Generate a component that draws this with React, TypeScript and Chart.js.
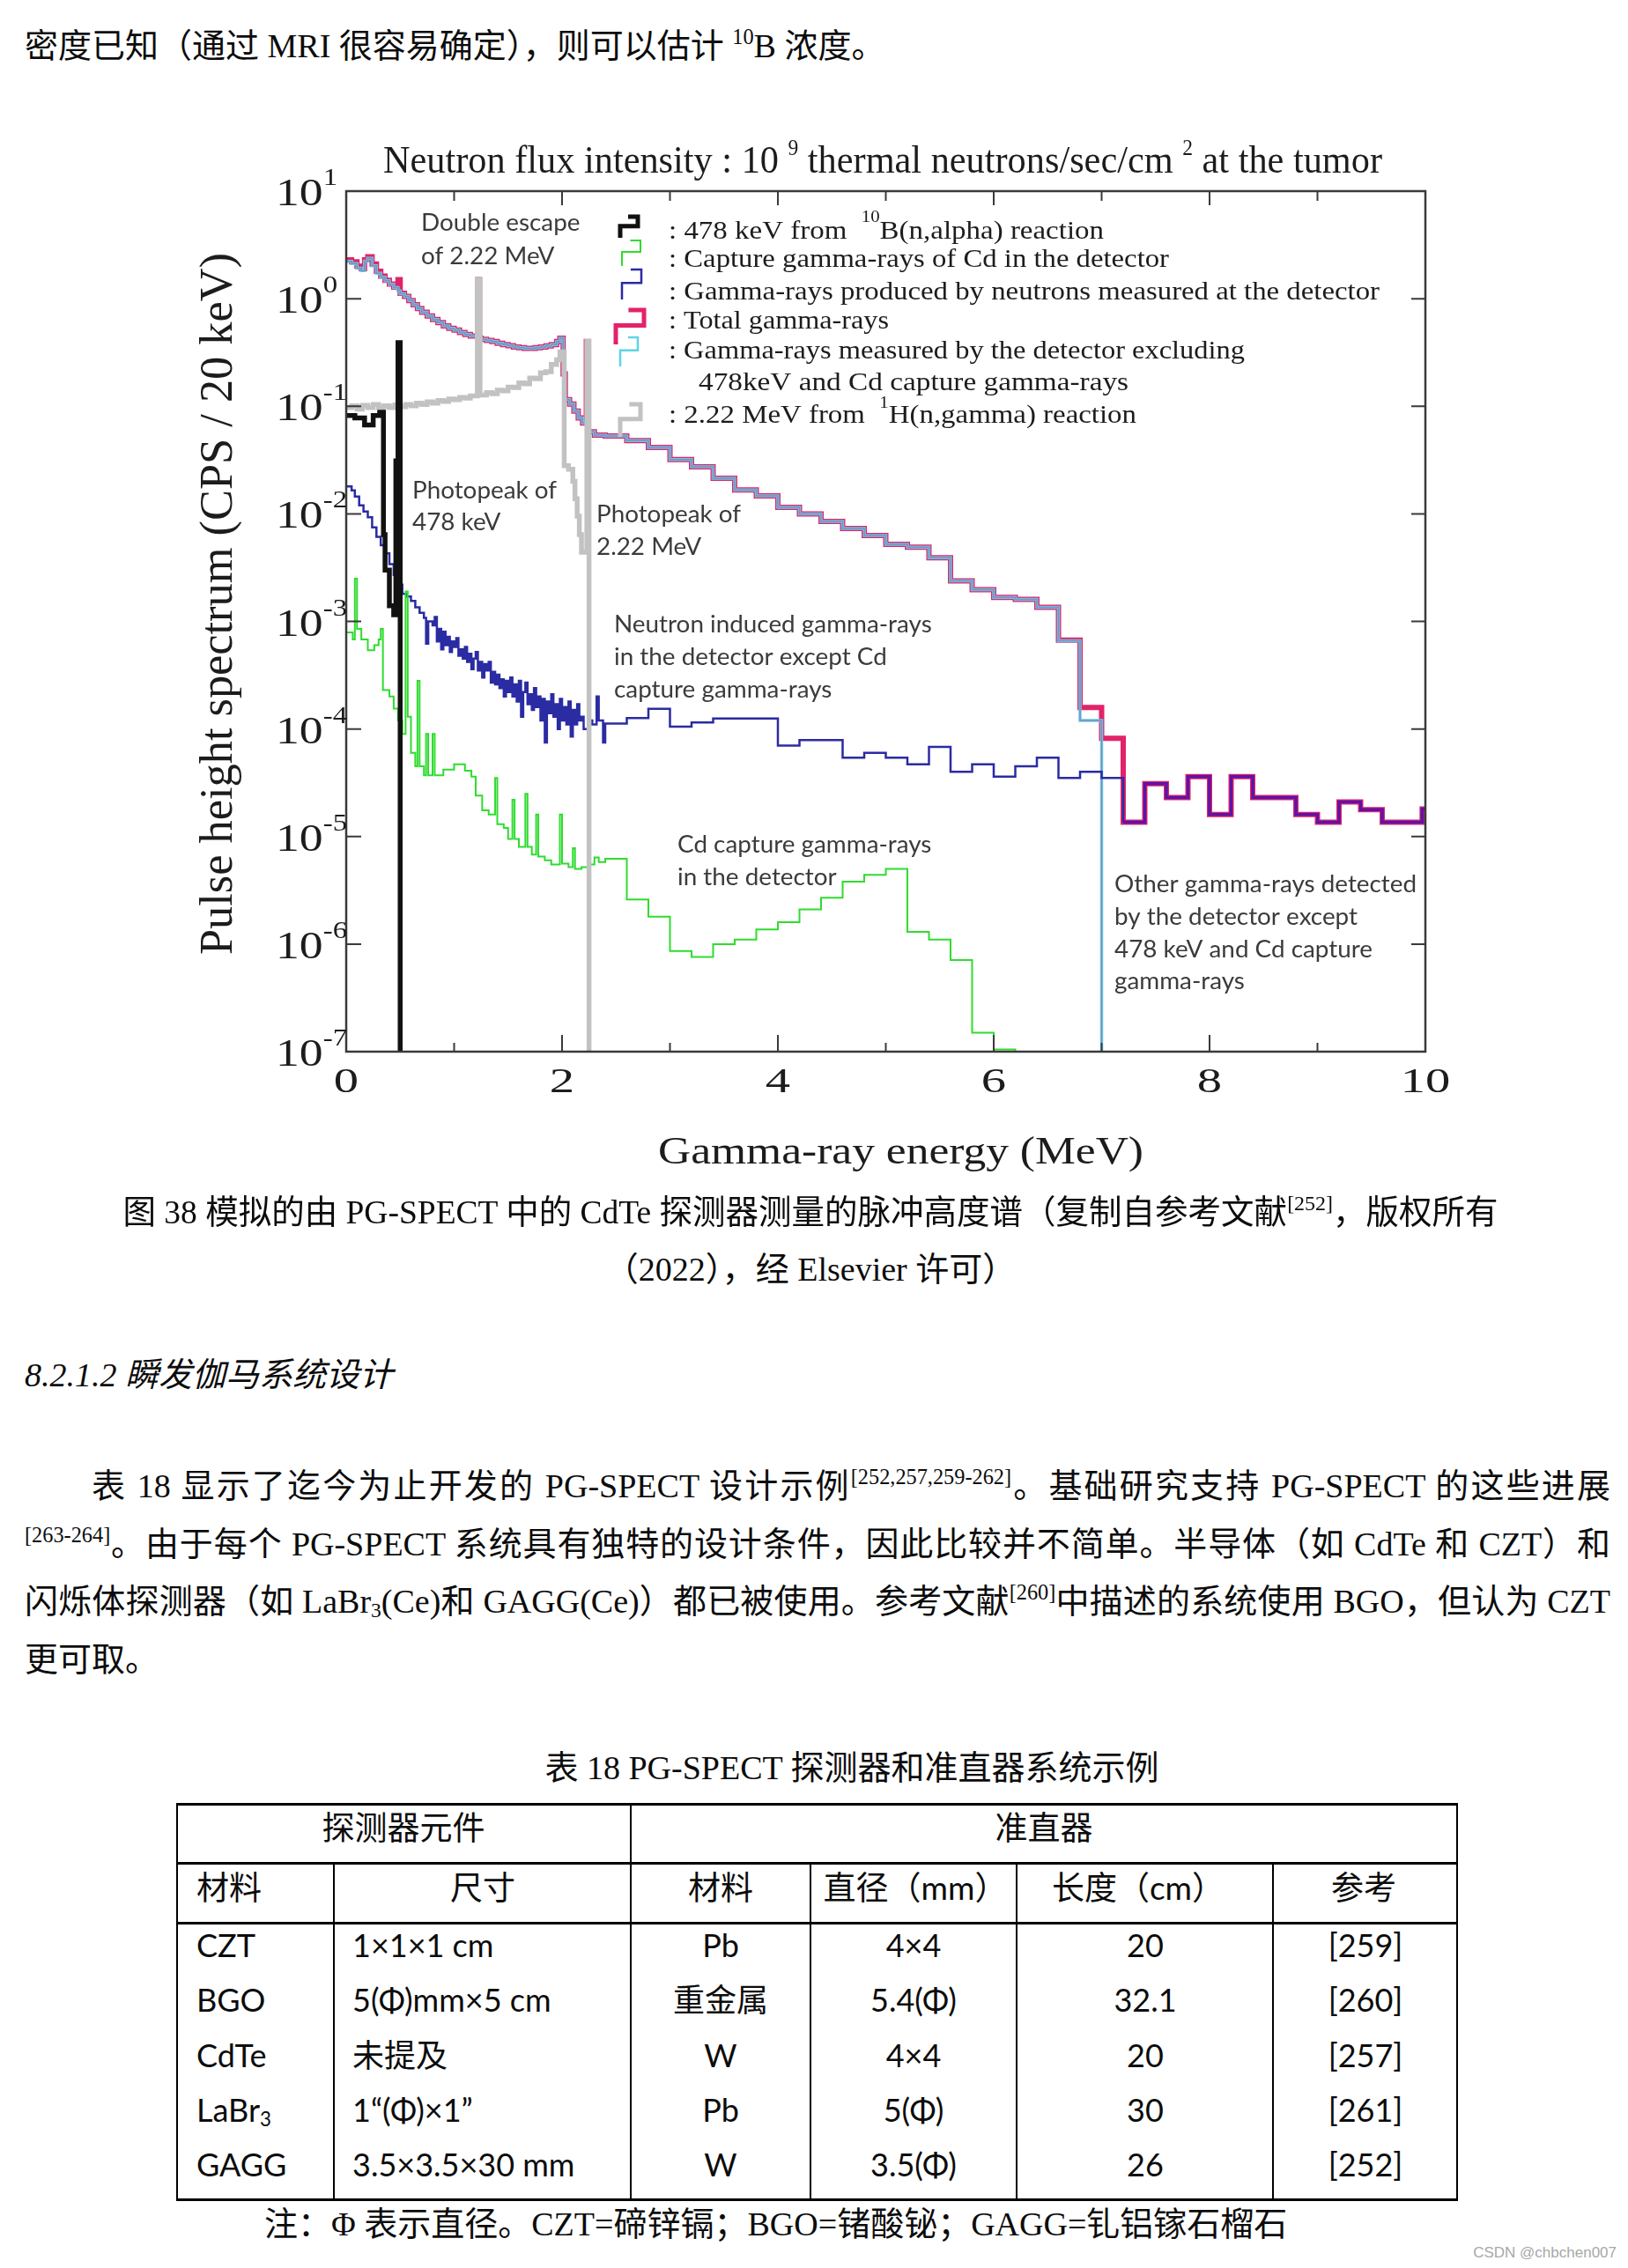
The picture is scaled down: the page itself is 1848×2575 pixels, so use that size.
import React, { useEffect, useRef } from "react";
import { Chart, registerables } from "chart.js";

Chart.register(...registerables);

type Pt = [number, number];

// ---------------- chart data ----------------
const X_TICK_VALUES = [0, 2, 4, 6, 8, 10];
const X_MINOR_VALUES = [1, 3, 5, 7, 9];
const Y_DECADES = [1, 0, -1, -2, -3, -4, -5, -6, -7];

// Total gamma-rays (bin left edge MeV, CPS / 20 keV)
const TOTAL_GAMMA: Pt[] = [
  [0.0, 2.3], [0.05, 2.2], [0.1, 2.0], [0.14, 1.9], [0.17, 2.3], [0.2, 2.45], [0.24, 2.1], [0.28, 1.8],
  [0.32, 1.62], [0.36, 1.48], [0.4, 1.37], [0.44, 1.28], [0.48, 1.5], [0.5, 1.12], [0.54, 1.05], [0.58, 0.96],
  [0.62, 0.88], [0.66, 0.81], [0.7, 0.75], [0.75, 0.69], [0.8, 0.64], [0.85, 0.6], [0.9, 0.56], [0.95, 0.53],
  [1.0, 0.51], [1.05, 0.485], [1.1, 0.465], [1.15, 0.45], [1.22, 1.5], [1.235, 0.43], [1.25, 0.42], [1.3, 0.41],
  [1.35, 0.4], [1.4, 0.385], [1.45, 0.375], [1.5, 0.365], [1.55, 0.356], [1.6, 0.35], [1.65, 0.346], [1.7, 0.345],
  [1.75, 0.35], [1.8, 0.356], [1.85, 0.363], [1.9, 0.375], [1.95, 0.4], [1.98, 0.43], [2.01, 0.2], [2.03, 0.115],
  [2.07, 0.105], [2.11, 0.09], [2.15, 0.078], [2.19, 0.07], [2.225, 0.4], [2.245, 0.058], [2.3, 0.054], [2.4, 0.053],
  [2.6, 0.048], [2.8, 0.0415], [3.0, 0.032], [3.2, 0.0274], [3.4, 0.0214], [3.6, 0.0167], [3.8, 0.0147], [4.0, 0.0115],
  [4.2, 0.01], [4.4, 0.0085], [4.6, 0.0073], [4.8, 0.0063], [5.0, 0.0052], [5.2, 0.0049], [5.4, 0.0039], [5.6, 0.00238],
  [5.8, 0.00197], [6.0, 0.00167], [6.2, 0.0016], [6.4, 0.00135], [6.6, 0.00067], [6.8, 0.000158], [7.0, 0.000082],
  [7.2, 1.36e-5], [7.4, 3.1e-5], [7.6, 2.3e-5], [7.8, 3.6e-5], [8.0, 1.6e-5], [8.2, 3.6e-5], [8.4, 2.3e-5], [8.8, 1.6e-5],
  [9.0, 1.36e-5], [9.2, 2.1e-5], [9.4, 1.78e-5], [9.6, 1.36e-5], [9.97, 1.8e-5], [10.0, 1.8e-5],
];

// Gamma-rays measured by the detector excluding 478 keV and Cd capture gamma-rays
const EXCLUDING_478_CD: Pt[] = [
  [0.0, 2.22], [0.05, 2.12], [0.1, 1.92], [0.14, 1.82], [0.17, 2.23], [0.2, 2.38], [0.24, 2.02], [0.28, 1.72],
  [0.32, 1.58], [0.36, 1.47], [0.4, 1.36], [0.44, 1.27], [0.48, 1.18], [0.5, 1.11], [0.54, 1.05], [0.58, 0.96],
  [0.62, 0.88], [0.66, 0.81], [0.7, 0.75], [0.75, 0.69], [0.8, 0.64], [0.85, 0.6], [0.9, 0.56], [0.95, 0.53],
  [1.0, 0.51], [1.05, 0.485], [1.1, 0.465], [1.15, 0.45], [1.22, 1.5], [1.235, 0.43], [1.25, 0.42], [1.3, 0.41],
  [1.35, 0.4], [1.4, 0.385], [1.45, 0.375], [1.5, 0.365], [1.55, 0.356], [1.6, 0.35], [1.65, 0.346], [1.7, 0.345],
  [1.75, 0.35], [1.8, 0.356], [1.85, 0.363], [1.9, 0.375], [1.95, 0.4], [1.98, 0.43], [2.01, 0.2], [2.03, 0.115],
  [2.07, 0.105], [2.11, 0.09], [2.15, 0.078], [2.19, 0.07], [2.225, 0.4], [2.245, 0.058], [2.3, 0.054], [2.4, 0.053],
  [2.6, 0.048], [2.8, 0.0415], [3.0, 0.032], [3.2, 0.0274], [3.4, 0.0214], [3.6, 0.0167], [3.8, 0.0147], [4.0, 0.0115],
  [4.2, 0.01], [4.4, 0.0085], [4.6, 0.0073], [4.8, 0.0063], [5.0, 0.0052], [5.2, 0.0049], [5.4, 0.0039], [5.6, 0.00238],
  [5.8, 0.00197], [6.0, 0.00167], [6.2, 0.0016], [6.4, 0.00135], [6.6, 0.00066], [6.8, 0.00012], [7.0, 1e-9],
];

// Gamma-rays produced by neutrons measured at the detector (except Cd capture)
const NEUTRON_INDUCED: Pt[] = [
  [0.0, 0.018], [0.05, 0.0165], [0.08, 0.0145], [0.12, 0.012], [0.16, 0.0105], [0.2, 0.0093], [0.24, 0.0075],
  [0.28, 0.0061], [0.32, 0.0051], [0.36, 0.0043], [0.4, 0.0034], [0.44, 0.0027], [0.48, 0.0022], [0.52, 0.0018],
  [0.56, 0.0017], [0.6, 0.00155], [0.64, 0.00135], [0.68, 0.0012], [0.72, 0.00108], [0.74, 0.00062], [0.76, 0.001],
  [0.8, 0.00092], [0.82, 0.0011], [0.84, 0.00065], [0.86, 0.00085], [0.88, 0.00055], [0.9, 0.0008], [0.92, 0.0006],
  [0.94, 0.00072], [0.96, 0.00052], [0.98, 0.00065], [1.0, 0.00058], [1.02, 0.0007], [1.04, 0.00048], [1.06, 0.00055],
  [1.08, 0.00045], [1.1, 0.00058], [1.12, 0.00042], [1.14, 0.0005], [1.16, 0.00036], [1.18, 0.00045], [1.2, 0.00052],
  [1.22, 0.00035], [1.24, 0.00042], [1.26, 0.0003], [1.28, 0.0004], [1.3, 0.00035], [1.32, 0.00042], [1.34, 0.00027],
  [1.36, 0.00034], [1.38, 0.00026], [1.4, 0.00032], [1.42, 0.00024], [1.44, 0.00029], [1.46, 0.0002], [1.48, 0.00028],
  [1.5, 0.00022], [1.52, 0.0003], [1.54, 0.0002], [1.56, 0.00026], [1.58, 0.00018], [1.6, 0.00028], [1.62, 0.00013],
  [1.64, 0.00022], [1.66, 0.00027], [1.68, 0.00017], [1.7, 0.00021], [1.72, 0.00015], [1.74, 0.00024], [1.76, 0.00016],
  [1.78, 0.0002], [1.8, 0.00012], [1.82, 0.00019], [1.84, 0.000075], [1.86, 0.00018], [1.88, 0.00014], [1.9, 0.00021],
  [1.92, 0.00013], [1.94, 0.00017], [1.96, 0.0001], [1.98, 0.00019], [2.0, 0.00012], [2.02, 0.00016], [2.04, 0.00011],
  [2.06, 0.00018], [2.08, 0.000085], [2.1, 0.00015], [2.12, 0.00011], [2.14, 0.00017], [2.16, 0.00012], [2.18, 0.00013],
  [2.2, 0.0001], [2.24, 0.00012], [2.28, 0.00011], [2.32, 0.0002], [2.34, 0.00012], [2.38, 0.000075], [2.4, 0.000112],
  [2.6, 0.000126], [2.8, 0.000154], [3.0, 0.000105], [3.2, 0.000115], [3.4, 0.000125], [4.0, 0.00007], [4.2, 0.000079],
  [4.6, 0.000054], [4.8, 0.00006], [5.0, 0.000054], [5.2, 0.000047], [5.4, 0.000068], [5.6, 0.00004], [5.8, 0.000047],
  [6.0, 0.000036], [6.2, 0.000045], [6.4, 0.000054], [6.6, 0.000035], [6.8, 0.00004], [7.0, 0.000035], [7.2, 1.36e-5],
  [7.4, 3.1e-5], [7.6, 2.3e-5], [7.8, 3.6e-5], [8.0, 1.6e-5], [8.2, 3.6e-5], [8.4, 2.3e-5], [8.8, 1.6e-5], [9.0, 1.36e-5],
  [9.2, 2.1e-5], [9.4, 1.78e-5], [9.6, 1.36e-5], [9.97, 1.8e-5], [10.0, 1.8e-5],
];

// Capture gamma-rays of Cd in the detector
const CD_CAPTURE: Pt[] = [
  [0.0, 0.00079], [0.06, 0.00068], [0.08, 0.0025], [0.1, 0.00085], [0.14, 0.00068], [0.2, 0.00054], [0.26, 0.0006],
  [0.3, 0.00068], [0.32, 0.00085], [0.34, 0.00023], [0.4, 0.0002], [0.44, 0.000155], [0.48, 0.00012], [0.52, 0.00009],
  [0.55, 0.0019], [0.57, 0.00013], [0.6, 0.00006], [0.64, 0.000045], [0.66, 0.00028], [0.68, 0.000045], [0.72, 0.000037],
  [0.74, 0.00009], [0.76, 0.000037], [0.8, 0.00009], [0.82, 0.000037], [0.9, 0.000042], [1.0, 0.000047], [1.1, 0.000041],
  [1.16, 0.000036], [1.2, 0.000024], [1.26, 0.0000175], [1.32, 0.000016], [1.38, 0.000035], [1.4, 0.000013],
  [1.46, 0.000012], [1.5, 0.0000095], [1.54, 0.000022], [1.56, 0.0000095], [1.6, 0.000008], [1.66, 0.000025],
  [1.68, 0.000008], [1.72, 0.0000068], [1.76, 0.000016], [1.78, 0.0000065], [1.84, 0.000006], [1.9, 0.0000055],
  [1.98, 0.000016], [2.0, 0.0000056], [2.06, 0.0000052], [2.1, 0.0000078], [2.12, 0.000005], [2.18, 0.0000052],
  [2.24, 0.0000055], [2.3, 0.0000064], [2.34, 0.0000058], [2.4, 0.0000062], [2.6, 0.0000026], [2.8, 0.0000018],
  [3.0, 0.00000086], [3.2, 0.00000076], [3.4, 0.000001], [3.6, 0.0000011], [3.8, 0.00000137], [4.0, 0.0000016],
  [4.2, 0.0000021], [4.4, 0.0000027], [4.6, 0.0000038], [4.8, 0.0000044], [5.0, 0.000005], [5.2, 0.0000013],
  [5.4, 0.0000011], [5.6, 0.00000071], [5.8, 0.00000015], [6.0, 0.000000105], [6.2, 1e-9],
];

// 478 keV from 10B(n,alpha) reaction
const B10_478KEV: Pt[] = [
  [0.0, 0.082], [0.08, 0.078], [0.17, 0.067], [0.25, 0.082], [0.31, 0.088], [0.345, 0.0064], [0.36, 0.003],
  [0.4, 0.0014], [0.44, 0.00115], [0.46, 0.031], [0.48, 0.39], [0.5, 1e-9],
];

// 2.22 MeV from 1H(n,gamma) reaction
const H1_222MEV: Pt[] = [
  [0.0, 0.097], [0.05, 0.101], [0.1, 0.094], [0.15, 0.102], [0.2, 0.097], [0.25, 0.104], [0.3, 0.098], [0.35, 0.101],
  [0.4, 0.097], [0.45, 0.103], [0.5, 0.099], [0.55, 0.104], [0.6, 0.101], [0.65, 0.107], [0.7, 0.104], [0.75, 0.11],
  [0.8, 0.107], [0.85, 0.113], [0.9, 0.111], [0.95, 0.117], [1.0, 0.115], [1.05, 0.121], [1.1, 0.119], [1.15, 0.125],
  [1.215, 1.5], [1.24, 0.127], [1.3, 0.134], [1.35, 0.131], [1.4, 0.141], [1.45, 0.139], [1.5, 0.151], [1.55, 0.149],
  [1.6, 0.165], [1.65, 0.162], [1.7, 0.183], [1.75, 0.18], [1.8, 0.205], [1.85, 0.21], [1.9, 0.245], [1.95, 0.27],
  [1.98, 0.32], [2.02, 0.028], [2.06, 0.026], [2.1, 0.02], [2.12, 0.0138], [2.14, 0.0095], [2.16, 0.0064],
  [2.18, 0.0044], [2.23, 0.4], [2.25, 1e-9],
];

// ---------------- texts ----------------
const CHART_TITLE = ["Neutron flux intensity : 10 ", "9", " thermal neutrons/sec/cm ", "2", " at the tumor"];
const Y_TITLE = "Pulse height spectrum (CPS / 20 keV)";
const X_TITLE = "Gamma-ray energy (MeV)";
const LEGEND_ROWS = [
  ": Capture gamma-rays of Cd in the detector",
  ": Gamma-rays produced by neutrons measured at the detector",
  ": Total gamma-rays",
  ": Gamma-rays measured by the detector excluding",
  "478keV and Cd capture gamma-rays",
];

const TABLE_HEAD_1 = ["探测器元件", "准直器"];
const TABLE_HEAD_2 = ["材料", "尺寸", "材料", "直径（mm）", "长度（cm）", "参考"];
const TABLE_ROWS = [
  ["CZT", "1×1×1 cm", "Pb", "4×4", "20", "[259]"],
  ["BGO", "5(Φ)mm×5 cm", "重金属", "5.4(Φ)", "32.1", "[260]"],
  ["CdTe", "未提及", "W", "4×4", "20", "[257]"],
  ["LaBr3", "1“(Φ)×1”", "Pb", "5(Φ)", "30", "[261]"],
  ["GAGG", "3.5×3.5×30 mm", "W", "3.5(Φ)", "26", "[252]"],
];

// ---------------- styles ----------------
const C_TOTAL = "#e2236a";
const C_EXCL = "#5fd3e6";
const C_MID = "#8a86c2";
const C_NEUT = "#2b2ba3";
const C_NEUT_HI = "#5c14a6";
const C_CD = "#2fdc2f";
const C_B = "#111111";
const C_H = "#c2c2c2";

const OX = 200;
const OY = 130;
const cx = (x: number) => x - OX;
const cy = (y: number) => y - OY;

type Seg = { t: string; f: string; dy?: number };

function rich(
  ctx: CanvasRenderingContext2D,
  segs: Seg[],
  x: number,
  y: number,
  opt: { w?: number; sx?: number; align?: "left" | "center"; color?: string }
) {
  ctx.save();
  let total = 0;
  const ws = segs.map((s) => {
    ctx.font = s.f;
    const m = ctx.measureText(s.t).width;
    total += m;
    return m;
  });
  const sx = opt.w ? opt.w / total : opt.sx ?? 1;
  ctx.translate(x, y);
  ctx.scale(sx, 1);
  let px = opt.align === "center" ? -total / 2 : 0;
  ctx.fillStyle = opt.color ?? "#1c1c1c";
  ctx.textBaseline = "alphabetic";
  ctx.textAlign = "left";
  segs.forEach((s, i) => {
    ctx.font = s.f;
    ctx.fillText(s.t, px, s.dy ?? 0);
    px += ws[i];
  });
  ctx.restore();
}

const SERIF_C = '"Liberation Serif"';

const pagePlugin = {
  id: "pagePlugin",
  afterDraw(chart: any) {
    const ctx = chart.ctx as CanvasRenderingContext2D;
    const xs = chart.scales.x;
    const ys = chart.scales.y;
    const a = chart.chartArea;
    ctx.save();
    // frame
    ctx.strokeStyle = "#3a3a3a";
    ctx.lineWidth = 2.5;
    ctx.strokeRect(a.left, a.top, a.right - a.left, a.bottom - a.top);
    // inward ticks
    ctx.lineWidth = 2;
    ctx.beginPath();
    [...X_TICK_VALUES, ...X_MINOR_VALUES].forEach((v) => {
      if (v === 0 || v === 10) return;
      const px = xs.getPixelForValue(v);
      const major = v % 2 === 0;
      ctx.moveTo(px, a.bottom);
      ctx.lineTo(px, a.bottom - (major ? 19 : 10));
      ctx.moveTo(px, a.top);
      ctx.lineTo(px, a.top + (major ? 16 : 11));
    });
    Y_DECADES.forEach((e) => {
      if (e === 1 || e === -7) return;
      const py = ys.getPixelForValue(Math.pow(10, e));
      ctx.moveTo(a.left, py);
      ctx.lineTo(a.left + 17, py);
      ctx.moveTo(a.right, py);
      ctx.lineTo(a.right - 16, py);
    });
    ctx.stroke();

    // y tick labels
    Y_DECADES.forEach((e) => {
      const py = ys.getPixelForValue(Math.pow(10, e));
      rich(
        ctx,
        [
          { t: "10", f: `44px ${SERIF_C}` },
          { t: e < 0 ? "-" + -e : String(e), f: `27px ${SERIF_C}`, dy: -23 },
        ],
        cx(313),
        py + 16,
        { sx: 1.22 }
      );
    });
    // x tick labels
    X_TICK_VALUES.forEach((v) => {
      rich(ctx, [{ t: String(v), f: `41px ${SERIF_C}` }], xs.getPixelForValue(v), cy(1240), {
        sx: 1.38,
        align: "center",
      });
    });
    // title
    rich(
      ctx,
      [
        { t: CHART_TITLE[0], f: `45px ${SERIF_C}` },
        { t: CHART_TITLE[1], f: `25px ${SERIF_C}`, dy: -20 },
        { t: CHART_TITLE[2], f: `45px ${SERIF_C}` },
        { t: CHART_TITLE[3], f: `25px ${SERIF_C}`, dy: -20 },
        { t: CHART_TITLE[4], f: `45px ${SERIF_C}` },
      ],
      cx(435),
      cy(196),
      { w: 1134 }
    );
    // x title
    rich(ctx, [{ t: X_TITLE, f: `45px ${SERIF_C}` }], cx(747), cy(1321), { w: 551 });
    // y title
    ctx.save();
    ctx.translate(cx(263), cy(685.5));
    ctx.rotate(-Math.PI / 2);
    rich(ctx, [{ t: Y_TITLE, f: `52px ${SERIF_C}` }], 0, 0, { w: 797, align: "center" });
    ctx.restore();

    // legend icons
    const icon = (color: string, lw: number, x0: number, x1: number, y0: number, y1: number) => {
      const h = y1 - y0;
      const xm = x0 + 0.45 * (x1 - x0);
      ctx.strokeStyle = color;
      ctx.lineWidth = lw;
      ctx.lineJoin = "miter";
      ctx.beginPath();
      ctx.moveTo(cx(xm), cy(y0));
      ctx.lineTo(cx(x1), cy(y0));
      ctx.lineTo(cx(x1), cy(y0 + 0.45 * h));
      ctx.lineTo(cx(x0), cy(y0 + 0.45 * h));
      ctx.lineTo(cx(x0), cy(y1));
      ctx.stroke();
    };
    icon(C_B, 5, 704, 724, 246, 270);
    icon(C_CD, 2, 706, 727, 273, 302);
    icon(C_NEUT, 2.5, 706, 728, 306, 340);
    icon(C_TOTAL, 5, 699, 731, 352, 391);
    icon(C_EXCL, 2.5, 704, 724, 383, 416);
    icon(C_H, 5, 704, 727, 459, 496);

    // legend text
    const LF = `30px ${SERIF_C}`;
    const LS = `19px ${SERIF_C}`;
    rich(
      ctx,
      [
        { t: ": 478 keV from  ", f: LF },
        { t: "10", f: LS, dy: -19 },
        { t: "B(n,alpha) reaction", f: LF },
      ],
      cx(759),
      cy(271),
      { w: 494 }
    );
    rich(ctx, [{ t: LEGEND_ROWS[0], f: LF }], cx(759), cy(303), { w: 568 });
    rich(ctx, [{ t: LEGEND_ROWS[1], f: LF }], cx(759), cy(340), { w: 807 });
    rich(ctx, [{ t: LEGEND_ROWS[2], f: LF }], cx(759), cy(373), { w: 250 });
    rich(ctx, [{ t: LEGEND_ROWS[3], f: LF }], cx(759), cy(407), { w: 654 });
    rich(ctx, [{ t: LEGEND_ROWS[4], f: LF }], cx(793), cy(443), { w: 488 });
    rich(
      ctx,
      [
        { t: ": 2.22 MeV from  ", f: LF },
        { t: "1", f: LS, dy: -17 },
        { t: "H(n,gamma) reaction", f: LF },
      ],
      cx(759),
      cy(480),
      { w: 531 }
    );

    // annotations
    const AF = "27px Lato";
    ctx.font = AF;
    const asx = 343 / ctx.measureText("Other gamma-rays detected").width;
    const note = (lines: string[], x: number, bls: number[]) =>
      lines.forEach((l, i) => rich(ctx, [{ t: l, f: AF }], cx(x), cy(bls[i]), { sx: asx, color: "#3b3b3b" }));
    note(["Double escape", "of 2.22 MeV"], 478, [262, 300]);
    note(["Photopeak of", "478 keV"], 468, [566, 602]);
    note(["Photopeak of", "2.22 MeV"], 677, [593, 630]);
    note(["Neutron induced gamma-rays", "in the detector except Cd", "capture gamma-rays"], 697, [718, 755, 792]);
    note(["Cd capture gamma-rays", "in the detector"], 769, [968, 1005]);
    note(
      ["Other gamma-rays detected", "by the detector except", "478 keV and Cd capture", "gamma-rays"],
      1265,
      [1013, 1050, 1087, 1123]
    );
    ctx.restore();
  },
};

function ds(data: Pt[], color: string, width: number, order: number, extra: any = {}) {
  return {
    data: data.map(([x, y]) => ({ x, y })),
    borderColor: color,
    backgroundColor: color,
    borderWidth: width,
    stepped: true,
    pointRadius: 0,
    fill: false,
    order,
    clip: 0,
    borderJoinStyle: "miter" as const,
    ...extra,
  };
}

// ---------------- HTML helpers ----------------
const SERIF = '"Liberation Serif", "Noto Sans CJK SC", serif';
const SANS = 'Lato, "Noto Sans CJK SC", sans-serif';

function Txt(props: {
  x: number;
  y: number;
  w?: number;
  align?: "left" | "center" | "right";
  size?: number;
  family?: string;
  style?: React.CSSProperties;
  children?: React.ReactNode;
}) {
  const { x, y, w = 1000, align = "left", size = 38, family = SERIF, style, children } = props;
  const h = 60;
  const left = align === "center" ? x - w / 2 : align === "right" ? x - w : x;
  return (
    <div
      style={{
        position: "absolute",
        left,
        top: y - h / 2,
        width: w,
        height: h,
        lineHeight: h + "px",
        fontSize: size,
        fontFamily: family,
        textAlign: align,
        whiteSpace: "nowrap",
        color: "#0c0c0c",
        ...style,
      }}
    >
      {children}
    </div>
  );
}

const Sup = ({ children }: { children: React.ReactNode }) => (
  <span style={{ fontSize: "0.64em", lineHeight: 0, verticalAlign: "0.62em" }}>{children}</span>
);
const Sub = ({ children }: { children: React.ReactNode }) => (
  <span style={{ fontSize: "0.62em", lineHeight: 0, verticalAlign: "-0.22em" }}>{children}</span>
);

const Rect = ({ x, y, w, h }: { x: number; y: number; w: number; h: number }) => (
  <div style={{ position: "absolute", left: x, top: y, width: w, height: h, background: "#000" }} />
);

const JUST: React.CSSProperties = { whiteSpace: "normal", textAlign: "justify", textAlignLast: "justify" };

function cellText(t: string) {
  if (t === "LaBr3")
    return (
      <>
        LaBr<Sub>3</Sub>
      </>
    );
  return t;
}

export default function App() {
  const ref = useRef<HTMLCanvasElement>(null);
  useEffect(() => {
    document.body.style.margin = "0";
    document.documentElement.style.overflow = "hidden";
    const chart = new Chart(ref.current as HTMLCanvasElement, {
      type: "line",
      data: {
        datasets: [
          ds(B10_478KEV, C_B, 5.5, 0),
          ds(H1_222MEV, C_H, 5.5, 1),
          ds(CD_CAPTURE, C_CD, 2, 2),
          ds(NEUTRON_INDUCED, C_NEUT, 2.5, 3, {
            segment: {
              borderColor: (c: any) => (c.p0.parsed.x >= 7.1 ? C_NEUT_HI : undefined),
              borderWidth: (c: any) => (c.p0.parsed.x >= 7.1 ? 3.5 : undefined),
            },
          }),
          ds(EXCLUDING_478_CD, C_MID, 1.5, 4),
          ds(EXCLUDING_478_CD, C_EXCL, 3.5, 5),
          ds(TOTAL_GAMMA, C_TOTAL, 6, 6),
        ] as any,
      },
      options: {
        animation: false,
        responsive: false,
        maintainAspectRatio: false,
        devicePixelRatio: 1,
        events: [],
        layout: { padding: { left: 193, right: 42, top: 87, bottom: 156 } },
        plugins: { legend: { display: false }, tooltip: { enabled: false }, title: { display: false } },
        scales: {
          x: { type: "linear", min: 0, max: 10, display: false },
          y: { type: "logarithmic", min: 1e-7, max: 10, display: false },
        },
      } as any,
      plugins: [pagePlugin],
    });
    return () => chart.destroy();
  }, []);

  const rowY = [2208, 2270, 2333, 2395, 2457];
  const colLeft = [223, 400];
  const colCenter = [818, 1037, 1300, 1550];
  const head2Center = [548, 818, 1039, 1292, 1548];

  return (
    <div style={{ position: "relative", width: 1848, height: 2575, background: "#fff", overflow: "hidden" }}>
      <Txt x={28} y={52}>
        密度已知（通过 MRI 很容易确定），则可以估计 <Sup>10</Sup>B 浓度。
      </Txt>

      <canvas
        ref={ref}
        width={1460}
        height={1220}
        style={{ position: "absolute", left: OX, top: OY, width: 1460, height: 1220 }}
      />

      <Txt x={920} y={1377} w={1800} align="center" size={37.5}>
        图 38 模拟的由 PG-SPECT 中的 CdTe 探测器测量的脉冲高度谱（复制自参考文献<Sup>[252]</Sup>，版权所有
      </Txt>
      <Txt x={920} y={1441} w={1000} align="center">
        （2022），经 Elsevier 许可）
      </Txt>

      <Txt x={28} y={1561} style={{ fontStyle: "italic" }}>
        8.2.1.2 瞬发伽马系统设计
      </Txt>

      <Txt x={28} y={1687} w={1800} style={{ ...JUST, textIndent: "2em" }}>
        表 18 显示了迄今为止开发的 PG-SPECT 设计示例<Sup>[252,257,259-262]</Sup>。基础研究支持 PG-SPECT 的这些进展
      </Txt>
      <Txt x={28} y={1753} w={1800} style={JUST}>
        <Sup>[263-264]</Sup>。由于每个 PG-SPECT 系统具有独特的设计条件，因此比较并不简单。半导体（如 CdTe 和 CZT）和
      </Txt>
      <Txt x={28} y={1818} w={1800} style={JUST}>
        闪烁体探测器（如 LaBr<Sub>3</Sub>(Ce)和 GAGG(Ce)）都已被使用。参考文献<Sup>[260]</Sup>中描述的系统使用 BGO，但认为 CZT
      </Txt>
      <Txt x={28} y={1884}>更可取。</Txt>

      <Txt x={967} y={2007} w={1000} align="center">
        表 18 PG-SPECT 探测器和准直器系统示例
      </Txt>

      {/* table rules */}
      <Rect x={201} y={2047} w={1454} h={3} />
      <Rect x={201} y={2114} w={1454} h={3} />
      <Rect x={201} y={2182} w={1454} h={3} />
      <Rect x={201} y={2496} w={1454} h={3} />
      <Rect x={200} y={2047} w={2} h={452} />
      <Rect x={1653} y={2047} w={2} h={452} />
      <Rect x={715} y={2047} w={2} h={452} />
      <Rect x={378} y={2115} w={2} h={384} />
      <Rect x={919} y={2115} w={2} h={384} />
      <Rect x={1153} y={2115} w={2} h={384} />
      <Rect x={1444} y={2115} w={2} h={384} />

      <Txt x={458} y={2075} w={500} align="center" family={SANS} size={37}>
        {TABLE_HEAD_1[0]}
      </Txt>
      <Txt x={1185} y={2075} w={800} align="center" family={SANS} size={37}>
        {TABLE_HEAD_1[1]}
      </Txt>
      <Txt x={223} y={2143} w={150} family={SANS} size={37}>
        {TABLE_HEAD_2[0]}
      </Txt>
      {TABLE_HEAD_2.slice(1).map((t, i) => (
        <Txt key={"h" + i} x={head2Center[i]} y={2143} w={300} align="center" family={SANS} size={37}>
          {t}
        </Txt>
      ))}
      {TABLE_ROWS.map((row, r) =>
        row.map((t, c) =>
          c < 2 ? (
            <Txt key={r + "-" + c} x={colLeft[c]} y={rowY[r]} w={310} family={SANS} size={36}>
              {cellText(t)}
            </Txt>
          ) : (
            <Txt key={r + "-" + c} x={colCenter[c - 2]} y={rowY[r]} w={280} align="center" family={SANS} size={36}>
              {t}
            </Txt>
          )
        )
      )}

      <Txt x={300} y={2525} w={1400}>
        注：Φ 表示直径。CZT=碲锌镉；BGO=锗酸铋；GAGG=钆铝镓石榴石
      </Txt>

      <Txt
        x={1835}
        y={2558}
        w={300}
        align="right"
        size={17}
        family='"Liberation Sans", sans-serif'
        style={{ color: "#a8a8a8" }}
      >
        CSDN @chbchen007
      </Txt>
    </div>
  );
}
